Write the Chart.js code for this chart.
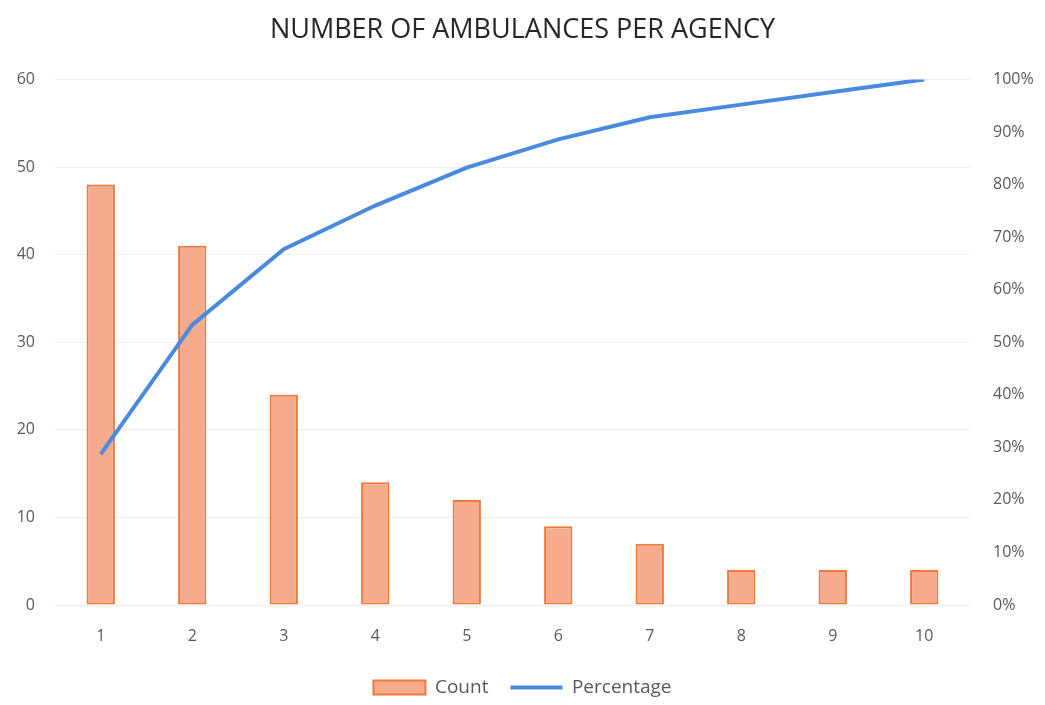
<!DOCTYPE html>
<html>
<head>
<meta charset="utf-8">
<script src="https://cdn.jsdelivr.net/npm/chart.js@4/dist/chart.umd.min.js"></script>
<style>
  html, body { margin: 0; padding: 0; background: #ffffff; }
  #wrap { width: 1045px; height: 705px; position: relative; }
</style>
</head>
<body>
<div id="wrap"><canvas id="c" width="1045" height="705"></canvas></div>
<script>
// Ambulances per agency (Pareto)
const agencies = ['1', '2', '3', '4', '5', '6', '7', '8', '9', '10'];
const counts = [48, 41, 24, 14, 12, 9, 7, 4, 4, 4];
const cumulativePercent = [28.7, 53.3, 67.7, 76.0, 83.2, 88.6, 92.8, 95.2, 97.6, 100];
const countTicks = [0, 10, 20, 30, 40, 50, 60];
const percentTicks = [0, 10, 20, 30, 40, 50, 60, 70, 80, 90, 100];

const textColor = '#595959';
const fontFamily = '"Open Sans", "Liberation Sans", sans-serif';

new Chart(document.getElementById('c'), {
  data: {
    labels: agencies,
    datasets: [
      {
        type: 'line',
        label: 'Percentage',
        data: cumulativePercent,
        yAxisID: 'y1',
        borderColor: '#4a8ade',
        backgroundColor: '#4a8ade',
        borderWidth: 4,
        pointRadius: 0,
        pointStyle: 'line',
        tension: 0,
        order: 0
      },
      {
        type: 'bar',
        label: 'Count',
        data: counts,
        yAxisID: 'y',
        backgroundColor: '#f6ab8c',
        borderColor: '#ee7a3a',
        borderWidth: 2,
        borderSkipped: false,
        categoryPercentage: 1,
        barPercentage: 0.31,
        order: 1
      }
    ]
  },
  options: {
    responsive: false,
    animation: false,
    layout: { padding: { top: 8, bottom: -2, left: 0, right: 0 } },
    plugins: {
      title: {
        display: true,
        text: 'NUMBER OF AMBULANCES PER AGENCY',
        color: '#262626',
        font: { family: fontFamily, size: 27, weight: 'normal' },
        padding: { top: 6, bottom: 33 }
      },
      legend: {
        position: 'bottom',
        reverse: true,
        labels: {
          color: textColor,
          font: { family: fontFamily, size: 19 },
          usePointStyle: true,
          pointStyleWidth: 52,
          boxHeight: 14,
          padding: 22,
          generateLabels: (chart) => {
            const items = Chart.defaults.plugins.legend.labels.generateLabels(chart);
            items.forEach(it => {
              if (it.text === 'Count') { it.pointStyle = 'rect'; it.lineWidth = 2; }
              else { it.pointStyle = 'line'; it.lineWidth = 4; }
            });
            return items;
          }
        }
      },
      tooltip: { enabled: false }
    },
    scales: {
      x: {
        grid: { display: false },
        border: { display: false },
        ticks: { color: textColor, font: { family: fontFamily, size: 16 }, padding: 14 },
        afterFit: (s) => { s.height = 51; }
      },
      y: {
        position: 'left',
        min: 0,
        max: 60,
        afterBuildTicks: (s) => { s.ticks = countTicks.map(v => ({ value: v })); },
        grid: { color: '#efefef', lineWidth: 1, drawTicks: false },
        border: { display: false },
        ticks: { color: textColor, font: { family: fontFamily, size: 16 }, padding: 20 },
        afterFit: (s) => { s.width = 55; }
      },
      y1: {
        position: 'right',
        min: 0,
        max: 100,
        afterBuildTicks: (s) => { s.ticks = percentTicks.map(v => ({ value: v })); },
        grid: { display: false, drawTicks: false },
        border: { display: false },
        ticks: {
          color: textColor,
          font: { family: fontFamily, size: 16 },
          padding: 23,
          callback: (v) => v + '%'
        },
        afterFit: (s) => { s.width = 75; }
      }
    }
  }
});
</script>
</body>
</html>
